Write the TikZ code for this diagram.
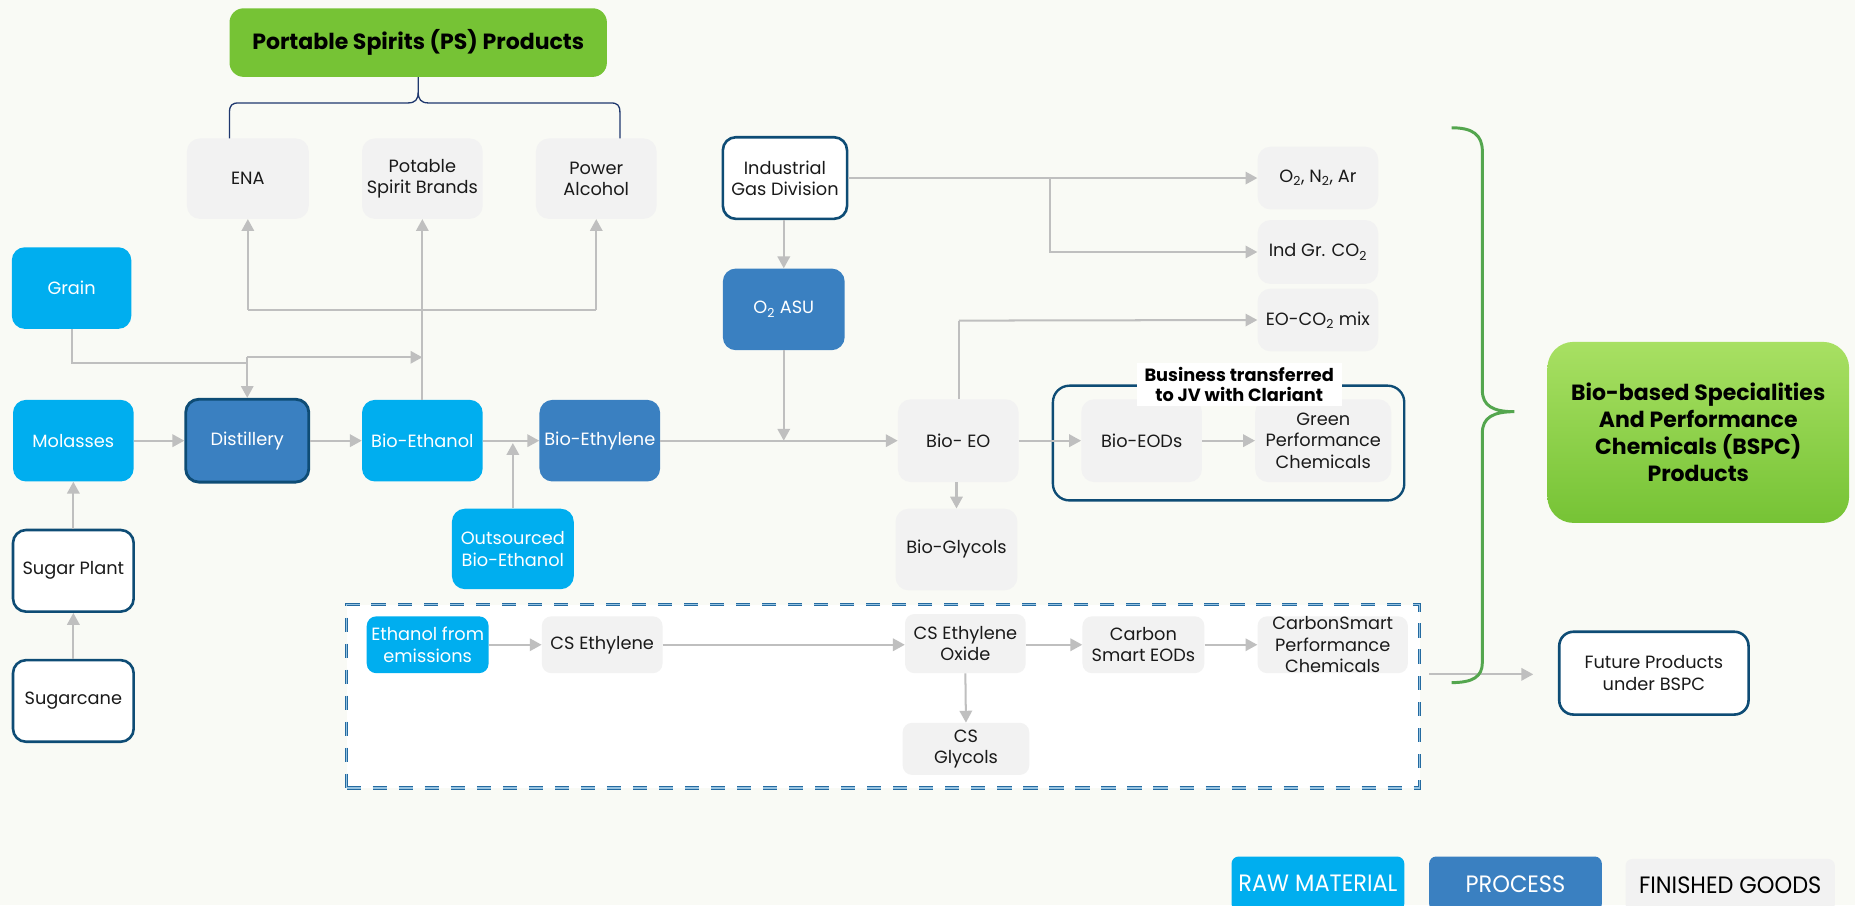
\documentclass[tikz,border=0pt]{standalone}
\usepackage{fontspec}
\setmainfont{Poppins}
\newfontfamily\legfont{Poppins}[FakeStretch=0.95]
\usetikzlibrary{arrows.meta,calc}
\definecolor{bg}{RGB}{249,250,245}
\definecolor{rawc}{RGB}{0,174,239}
\definecolor{procc}{RGB}{58,128,193}
\definecolor{finc}{RGB}{242,242,242}
\definecolor{navyb}{RGB}{14,76,117}
\definecolor{arrc}{RGB}{191,191,191}
\definecolor{braceg}{RGB}{84,166,78}
\definecolor{psg}{RGB}{118,195,53}
\definecolor{lightg}{RGB}{168,224,99}
\definecolor{bracen}{RGB}{31,56,110}
\definecolor{dashb}{RGB}{36,106,160}
\definecolor{dashl}{RGB}{150,195,225}
\definecolor{txt}{RGB}{26,26,26}
\tikzset{
  box/.style={rounded corners=11pt, align=center, inner sep=0pt, font=\fontsize{15}{18}\selectfont, text=txt},
  raw/.style={box, fill=rawc, text=white},
  proc/.style={box, fill=procc, text=white},
  fin/.style={box, fill=finc},
  outl/.style={box, fill=white, draw=navyb, line width=2.2pt},
  sz/.style 2 args={minimum width=#1pt, minimum height=#2pt},
  ln/.style={draw=arrc, line width=1.7pt},
  arr/.style={ln, -{Triangle[length=10pt,width=10.5pt]}},
  legbox/.style={rounded corners=6pt, inner sep=0pt, font=\legfont\fontsize{20}{22}\selectfont}
}
\begin{document}
\begin{tikzpicture}[x=1pt,y=-1pt]
\fill[bg] (0,0) rectangle (1568,765);
\useasboundingbox (0,0) rectangle (1568,765);

% dashed CarbonSmart region
\node[draw=dashb, double=dashl, double distance=1.1pt, line width=1pt,
      dash pattern=on 12pt off 10pt, fill=white, inner sep=0pt,
      minimum width=907pt, minimum height=155pt] (csbox) at (746.5,588.5) {};

% top PS products
\node[box, fill=psg, text=black, rounded corners=12pt, sz={319}{58},
      font=\bfseries\fontsize{18.6}{22}\selectfont] (ps) at (353.5,36) {Portable Spirits (PS) Products};
\node[fin, sz={103}{68}] (ena) at (209.5,151) {ENA};
\node[fin, sz={102}{68}] (psb) at (357,151) {Potable\\Spirit Brands};
\node[fin, sz={102}{68}] (pwr) at (504,151) {Power\\Alcohol};

% raw materials and process, left
\node[raw, sz={101}{69}] (grain) at (60.5,243.5) {Grain};
\node[raw, sz={102}{69}] (mol) at (62,372.5) {Molasses};
\node[outl, sz={102}{69}] (sugp) at (62,482.5) {Sugar Plant};
\node[outl, sz={102}{69}] (sugc) at (62,592.5) {Sugarcane};
\node[proc, draw=navyb, line width=2.4pt, sz={104}{70}] (dist) at (209,372.5) {Distillery};
\node[raw, sz={102}{69}] (bioeth) at (357,372.5) {Bio-Ethanol};
\node[proc, sz={102}{69}] (bioethy) at (507,372.5) {Bio-Ethylene};
\node[raw, sz={103}{68}] (outs) at (433.5,464) {Outsourced\\Bio-Ethanol};

% gases
\node[outl, sz={105}{69}] (igd) at (663.5,150.5) {Industrial\\Gas Division};
\node[proc, sz={103}{69}] (asu) at (662.5,261.5) {O\textsubscript{2} ASU};
\node[fin, sz={102}{53}] (o2n2) at (1114,150.5) {O\textsubscript{2}, N\textsubscript{2}, Ar};
\node[fin, sz={102}{54}] (indgr) at (1114,213) {Ind Gr. CO\textsubscript{2}};
\node[fin, sz={102}{53}] (eoco2) at (1114,270.5) {EO-CO\textsubscript{2} mix};

% EO chain
\node[fin, sz={102}{70}] (bioeo) at (810,372.5) {Bio- EO};
\node[fin, sz={103}{69}] (bioglyc) at (808.5,464.5) {Bio-Glycols};
\node[draw=navyb, line width=2pt, rounded corners=14pt, inner sep=0pt, sz={297}{97}] (jv) at (1038.5,374.5) {};
\node[fin, sz={102}{70}] (bioeods) at (965,372.5) {Bio-EODs};
\node[fin, sz={115}{70}] (gpc) at (1118.5,372.5) {Green\\Performance\\Chemicals};
\node[fill=white, inner sep=0pt, sz={173}{36}, align=center,
      font=\bfseries\fontsize{15}{17.5}\selectfont] (jvl) at (1047.5,325) {Business transferred\\to JV with Clariant};

% BSPC
\node[rounded corners=22pt, top color=lightg, bottom color=psg, sz={255}{153}, align=center, inner sep=0pt,
      font=\bfseries\fontsize{18.6}{22.8}\selectfont] (bspc) at (1435.5,365.5)
      {Bio-based Specialities\\And Performance\\Chemicals (BSPC)\\Products};

% CarbonSmart chain
\node[raw, rounded corners=8pt, sz={103}{48}] (efe) at (361.5,545) {Ethanol from\\emissions};
\node[fin, rounded corners=8pt, sz={102}{48}] (cseth) at (509,545) {CS Ethylene};
\node[fin, rounded corners=8pt, sz={102}{50}] (cseo) at (816,544) {CS Ethylene\\Oxide};
\node[fin, rounded corners=8pt, sz={103}{48}] (cseods) at (966.5,545) {Carbon\\Smart EODs};
\node[fin, rounded corners=8pt, sz={127}{48}] (cspc) at (1126.5,545) {CarbonSmart\\Performance\\Chemicals};
\node[fin, rounded corners=8pt, sz={107}{44}] (csgly) at (816.5,633) {CS\\Glycols};

\node[outl, rounded corners=12pt, sz={160}{70}] (future) at (1398,569) {Future Products\\under BSPC};

% legend
\node[legbox, fill=rawc, text=white, sz={146}{46}] (leg1) at (1114,747) {RAW MATERIAL};
\node[legbox, fill=procc, text=white, sz={146}{46}] (leg2) at (1281,747) {PROCESS};
\node[legbox, fill=finc, text=black, sz={177}{44}] (leg3) at (1462.5,748) {FINISHED GOODS};

% ---- connectors ----
% PS brace
\coordinate (bl) at (194,117);
\coordinate (br) at (524,117);
\draw[bracen, line width=1.1pt] (bl) -- (194,95) .. controls (194,89) and (196,87) .. (202,87) -- (345,87) .. controls (351,87) and (353.5,84) .. (353.5,78) -- (ps.south);
\draw[bracen, line width=1.1pt] (br) -- (524,95) .. controls (524,89) and (522,87) .. (516,87) -- (362,87) .. controls (356,87) and (353.5,84) .. (353.5,78);

% grain
\coordinate (gj) at (209,307);
\coordinate (gk) at (209,302);
\coordinate (gt) at (357,302);
\draw[ln] (grain.south) |- (gj);
\draw[ln] (gj) -- (gk);
\draw[arr] (gk) -- (dist.north);
\draw[arr] (gk) -- (gt);

% bio-ethanol up
\coordinate (hl) at (209.5,262);
\coordinate (hr) at (504,262);
\draw[arr] (bioeth.north) -- (psb.south);
\draw[ln] (hl) -- (hr);
\draw[arr] (hl) -- (ena.south);
\draw[arr] (hr) -- (pwr.south);

% main line
\draw[arr] (sugc.north) -- (sugp.south);
\draw[arr] (sugp.north) -- (mol.south);
\draw[arr] (mol.east) -- (mol.east -| dist.west);
\draw[arr] (dist.east) -- (dist.east -| bioeth.west);
\draw[arr] (bioeth.east) -- (bioeth.east -| bioethy.west);
\coordinate (oj) at (433.5,374.5);
\draw[arr] (outs.north) -- (oj);
\draw[arr] (bioethy.east) -- (bioethy.east -| bioeo.west);
\coordinate (aj) at (662.5,372.5);
\draw[arr] (asu.south) -- (aj);
\draw[arr] (igd.south -| asu.north) -- (asu.north);

% gases
\coordinate (gb) at (887.5,150.5);
\draw[arr] (igd.east) -- (o2n2.west);
\draw[arr] (gb) |- (indgr.west);
\coordinate (eoj) at (810.5,271);
\draw[ln] (bioeo.north -| eoj) -- (eoj);
\draw[arr] (eoj) -- (eoco2.west);

\draw[arr] (bioeo.east) -- (bioeo.east -| bioeods.west);
\draw[arr] (bioeods.east) -- (bioeods.east -| gpc.west);
\draw[arr] (bioeo.south -| bioglyc.north) -- (bioglyc.north);

% CarbonSmart
\draw[arr] (efe.east) -- (efe.east -| cseth.west);
\draw[arr] (cseth.east) -- (cseth.east -| cseo.west);
\draw[arr] (cseo.east |- cseods.west) -- (cseods.west);
\draw[arr] (cseods.east) -- (cseods.east -| cspc.west);
\draw[arr] (cseo.south) -- (csgly.north);

% out of the dashed region
\coordinate (fs) at (1208,570);
\coordinate (fe) at (1296,570);
\draw[arr] (fs) -- (fe);

% green brace
\draw[braceg, line width=2.5pt] (1227,108) .. controls (1245,108) and (1253,114) .. (1253,128) -- (1253,330)
   .. controls (1253,343) and (1262,348) .. (1280,348)
   .. controls (1262,348) and (1253,353) .. (1253,366) -- (1253,560)
   .. controls (1253,572) and (1245,577) .. (1227,577);
\end{tikzpicture}
\end{document}
